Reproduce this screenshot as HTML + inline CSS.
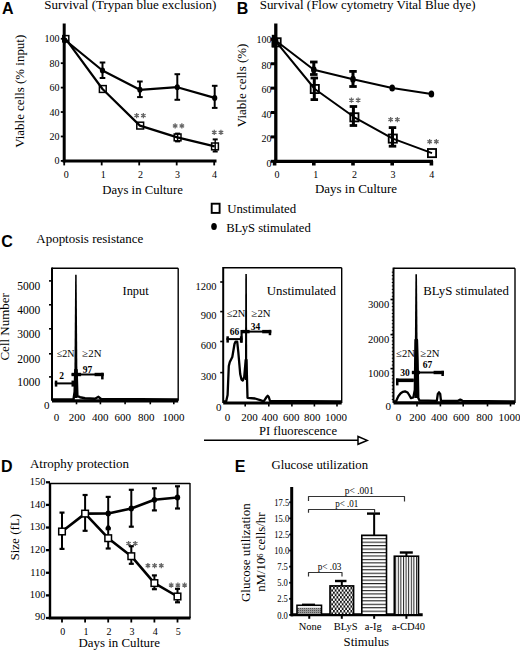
<!DOCTYPE html>
<html><head><meta charset="utf-8"><style>
html,body{margin:0;padding:0;background:#fff;font-family:"Liberation Sans",sans-serif;overflow:hidden;}
svg{display:block;}
</style></head><body>
<svg width="520" height="650" viewBox="0 0 520 650">
<rect width="520" height="650" fill="#fff"/>
<text x="1.90" y="13.50" font-family="Liberation Sans, sans-serif" font-size="16" text-anchor="start" font-weight="bold" fill="#000" >A</text>
<text x="44.30" y="8.80" font-family="Liberation Serif, serif" font-size="13" text-anchor="start" fill="#000" textLength="172" lengthAdjust="spacingAndGlyphs" >Survival (Trypan blue exclusion)</text>
<line x1="64.20" y1="23.50" x2="64.20" y2="162.30" stroke="#000" stroke-width="3" />
<line x1="62.70" y1="160.90" x2="216.50" y2="160.90" stroke="#000" stroke-width="3" />
<line x1="60.80" y1="160.90" x2="64.20" y2="160.90" stroke="#000" stroke-width="1.8" />
<text x="59.60" y="164.40" font-family="Liberation Serif, serif" font-size="10" text-anchor="end" fill="#000" >0</text>
<line x1="60.80" y1="136.47" x2="64.20" y2="136.47" stroke="#000" stroke-width="1.8" />
<text x="59.60" y="139.97" font-family="Liberation Serif, serif" font-size="10" text-anchor="end" fill="#000" >20</text>
<line x1="60.80" y1="112.04" x2="64.20" y2="112.04" stroke="#000" stroke-width="1.8" />
<text x="59.60" y="115.54" font-family="Liberation Serif, serif" font-size="10" text-anchor="end" fill="#000" >40</text>
<line x1="60.80" y1="87.61" x2="64.20" y2="87.61" stroke="#000" stroke-width="1.8" />
<text x="59.60" y="91.11" font-family="Liberation Serif, serif" font-size="10" text-anchor="end" fill="#000" >60</text>
<line x1="60.80" y1="63.18" x2="64.20" y2="63.18" stroke="#000" stroke-width="1.8" />
<text x="59.60" y="66.68" font-family="Liberation Serif, serif" font-size="10" text-anchor="end" fill="#000" >80</text>
<line x1="60.80" y1="38.75" x2="64.20" y2="38.75" stroke="#000" stroke-width="1.8" />
<text x="59.60" y="42.25" font-family="Liberation Serif, serif" font-size="10" text-anchor="end" fill="#000" >100</text>
<line x1="64.20" y1="160.90" x2="64.20" y2="165.40" stroke="#000" stroke-width="1.8" />
<text x="66.20" y="178.00" font-family="Liberation Serif, serif" font-size="10" text-anchor="middle" fill="#000" >0</text>
<line x1="101.70" y1="160.90" x2="101.70" y2="165.40" stroke="#000" stroke-width="1.8" />
<text x="103.30" y="178.00" font-family="Liberation Serif, serif" font-size="10" text-anchor="middle" fill="#000" >1</text>
<line x1="139.20" y1="160.90" x2="139.20" y2="165.40" stroke="#000" stroke-width="1.8" />
<text x="140.40" y="178.00" font-family="Liberation Serif, serif" font-size="10" text-anchor="middle" fill="#000" >2</text>
<line x1="176.70" y1="160.90" x2="176.70" y2="165.40" stroke="#000" stroke-width="1.8" />
<text x="177.50" y="178.00" font-family="Liberation Serif, serif" font-size="10" text-anchor="middle" fill="#000" >3</text>
<line x1="214.20" y1="160.90" x2="214.20" y2="165.40" stroke="#000" stroke-width="1.8" />
<text x="214.60" y="178.00" font-family="Liberation Serif, serif" font-size="10" text-anchor="middle" fill="#000" >4</text>
<text x="102.30" y="193.80" font-family="Liberation Serif, serif" font-size="13" text-anchor="start" fill="#000" textLength="80.5" lengthAdjust="spacingAndGlyphs" >Days in Culture</text>
<text transform="translate(24.20,91.30) rotate(-90)" x="0" y="0" font-family="Liberation Serif, serif" font-size="13" text-anchor="middle" fill="#000" textLength="113" lengthAdjust="spacingAndGlyphs" >Viable cells (% input)</text>
<polyline points="65.10,40.00 102.50,70.50 139.90,89.80 177.30,87.20 214.70,97.90" fill="none" stroke="#000" stroke-width="2.2" stroke-linejoin="round" />
<polyline points="65.50,38.60 102.50,89.00 139.90,125.60 177.30,137.40 214.70,146.40" fill="none" stroke="#000" stroke-width="2.2" stroke-linejoin="round" />
<line x1="102.50" y1="62.50" x2="102.50" y2="78.00" stroke="#000" stroke-width="2.0" />
<line x1="99.70" y1="62.50" x2="105.30" y2="62.50" stroke="#000" stroke-width="2.0" />
<line x1="99.70" y1="78.00" x2="105.30" y2="78.00" stroke="#000" stroke-width="2.0" />
<ellipse cx="102.50" cy="70.50" rx="2.60" ry="3.00" fill="#000"/>
<line x1="139.90" y1="81.50" x2="139.90" y2="97.10" stroke="#000" stroke-width="2.0" />
<line x1="137.10" y1="81.50" x2="142.70" y2="81.50" stroke="#000" stroke-width="2.0" />
<line x1="137.10" y1="97.10" x2="142.70" y2="97.10" stroke="#000" stroke-width="2.0" />
<ellipse cx="139.90" cy="89.80" rx="2.60" ry="3.00" fill="#000"/>
<line x1="177.30" y1="74.20" x2="177.30" y2="99.80" stroke="#000" stroke-width="2.0" />
<line x1="174.50" y1="74.20" x2="180.10" y2="74.20" stroke="#000" stroke-width="2.0" />
<line x1="174.50" y1="99.80" x2="180.10" y2="99.80" stroke="#000" stroke-width="2.0" />
<ellipse cx="177.30" cy="87.20" rx="2.60" ry="3.00" fill="#000"/>
<line x1="214.70" y1="85.80" x2="214.70" y2="107.90" stroke="#000" stroke-width="2.0" />
<line x1="211.90" y1="85.80" x2="217.50" y2="85.80" stroke="#000" stroke-width="2.0" />
<line x1="211.90" y1="107.90" x2="217.50" y2="107.90" stroke="#000" stroke-width="2.0" />
<ellipse cx="214.70" cy="97.90" rx="2.60" ry="3.00" fill="#000"/>
<line x1="177.60" y1="133.60" x2="177.60" y2="141.40" stroke="#000" stroke-width="1.4" />
<line x1="175.10" y1="133.60" x2="180.10" y2="133.60" stroke="#000" stroke-width="2.0" />
<line x1="175.10" y1="141.40" x2="180.10" y2="141.40" stroke="#000" stroke-width="2.0" />
<line x1="215.20" y1="139.40" x2="215.20" y2="151.50" stroke="#000" stroke-width="1.4" />
<line x1="212.70" y1="139.40" x2="217.70" y2="139.40" stroke="#000" stroke-width="2.0" />
<line x1="212.70" y1="151.50" x2="217.70" y2="151.50" stroke="#000" stroke-width="2.0" />
<rect x="62.80" y="35.60" width="6.00" height="6.00" fill="none" stroke="#000" stroke-width="1.5"/>
<rect x="99.40" y="85.60" width="6.80" height="6.80" fill="none" stroke="#000" stroke-width="1.5"/>
<rect x="136.80" y="122.20" width="6.80" height="6.80" fill="none" stroke="#000" stroke-width="1.5"/>
<rect x="174.20" y="134.00" width="6.80" height="6.80" fill="none" stroke="#000" stroke-width="1.5"/>
<rect x="211.60" y="143.00" width="6.80" height="6.80" fill="none" stroke="#000" stroke-width="1.5"/>
<ellipse cx="64.60" cy="40.50" rx="2.60" ry="3.00" fill="#000"/>
<path d="M136.65,118.20L136.65,113.00M134.40,116.90L138.90,114.30M138.90,116.90L134.40,114.30" stroke="#666" stroke-width="1.25" fill="none"/>
<path d="M143.35,118.20L143.35,113.00M141.10,116.90L145.60,114.30M145.60,116.90L141.10,114.30" stroke="#666" stroke-width="1.25" fill="none"/>
<path d="M175.15,128.50L175.15,123.30M172.90,127.20L177.40,124.60M177.40,127.20L172.90,124.60" stroke="#666" stroke-width="1.25" fill="none"/>
<path d="M181.85,128.50L181.85,123.30M179.60,127.20L184.10,124.60M184.10,127.20L179.60,124.60" stroke="#666" stroke-width="1.25" fill="none"/>
<path d="M214.25,135.00L214.25,129.80M212.00,133.70L216.50,131.10M216.50,133.70L212.00,131.10" stroke="#666" stroke-width="1.25" fill="none"/>
<path d="M220.95,135.00L220.95,129.80M218.70,133.70L223.20,131.10M223.20,133.70L218.70,131.10" stroke="#666" stroke-width="1.25" fill="none"/>
<text x="236.70" y="13.80" font-family="Liberation Sans, sans-serif" font-size="16" text-anchor="start" font-weight="bold" fill="#000" >B</text>
<text x="259.70" y="8.80" font-family="Liberation Serif, serif" font-size="13" text-anchor="start" fill="#000" textLength="216" lengthAdjust="spacingAndGlyphs" >Survival (Flow cytometry Vital Blue dye)</text>
<line x1="275.80" y1="23.50" x2="275.80" y2="163.00" stroke="#000" stroke-width="3.3" />
<line x1="274.00" y1="161.30" x2="433.00" y2="161.30" stroke="#000" stroke-width="3.3" />
<line x1="270.80" y1="161.30" x2="275.80" y2="161.30" stroke="#000" stroke-width="3" />
<text x="271.60" y="166.60" font-family="Liberation Serif, serif" font-size="10" text-anchor="end" fill="#000" >0</text>
<line x1="270.80" y1="136.91" x2="275.80" y2="136.91" stroke="#000" stroke-width="3" />
<text x="271.60" y="142.21" font-family="Liberation Serif, serif" font-size="10" text-anchor="end" fill="#000" >20</text>
<line x1="270.80" y1="112.52" x2="275.80" y2="112.52" stroke="#000" stroke-width="3" />
<text x="271.60" y="117.82" font-family="Liberation Serif, serif" font-size="10" text-anchor="end" fill="#000" >40</text>
<line x1="270.80" y1="88.13" x2="275.80" y2="88.13" stroke="#000" stroke-width="3" />
<text x="271.60" y="93.43" font-family="Liberation Serif, serif" font-size="10" text-anchor="end" fill="#000" >60</text>
<line x1="270.80" y1="63.74" x2="275.80" y2="63.74" stroke="#000" stroke-width="3" />
<text x="271.60" y="69.04" font-family="Liberation Serif, serif" font-size="10" text-anchor="end" fill="#000" >80</text>
<line x1="270.80" y1="39.35" x2="275.80" y2="39.35" stroke="#000" stroke-width="3" />
<text x="271.60" y="43.15" font-family="Liberation Serif, serif" font-size="10" text-anchor="end" fill="#000" >100</text>
<rect x="272.80" y="161.00" width="3.60" height="4.50" fill="#000" />
<text x="277.10" y="178.00" font-family="Liberation Serif, serif" font-size="10" text-anchor="middle" fill="#000" >0</text>
<rect x="312.00" y="161.00" width="3.60" height="4.50" fill="#000" />
<text x="315.75" y="178.00" font-family="Liberation Serif, serif" font-size="10" text-anchor="middle" fill="#000" >1</text>
<rect x="351.20" y="161.00" width="3.60" height="4.50" fill="#000" />
<text x="354.40" y="178.00" font-family="Liberation Serif, serif" font-size="10" text-anchor="middle" fill="#000" >2</text>
<rect x="390.40" y="161.00" width="3.60" height="4.50" fill="#000" />
<text x="393.05" y="178.00" font-family="Liberation Serif, serif" font-size="10" text-anchor="middle" fill="#000" >3</text>
<rect x="429.60" y="161.00" width="3.60" height="4.50" fill="#000" />
<text x="431.70" y="178.00" font-family="Liberation Serif, serif" font-size="10" text-anchor="middle" fill="#000" >4</text>
<text x="315.00" y="193.20" font-family="Liberation Serif, serif" font-size="13" text-anchor="start" fill="#000" textLength="82" lengthAdjust="spacingAndGlyphs" >Days in Culture</text>
<text transform="translate(246.00,85.40) rotate(-90)" x="0" y="0" font-family="Liberation Serif, serif" font-size="13.2" text-anchor="middle" fill="#000" textLength="83.6" lengthAdjust="spacingAndGlyphs" >Viable cells (%)</text>
<polyline points="275.60,40.50 313.80,69.80 353.00,79.20 392.20,88.10 431.40,94.10" fill="none" stroke="#000" stroke-width="2.0" stroke-linejoin="round" />
<polyline points="276.60,42.30 314.80,89.00 354.40,117.30 392.80,138.60 432.00,153.10" fill="none" stroke="#000" stroke-width="2.0" stroke-linejoin="round" />
<line x1="313.80" y1="62.00" x2="313.80" y2="74.50" stroke="#000" stroke-width="3.0" />
<line x1="310.05" y1="62.00" x2="317.55" y2="62.00" stroke="#000" stroke-width="2.8" />
<line x1="310.05" y1="74.50" x2="317.55" y2="74.50" stroke="#000" stroke-width="2.8" />
<line x1="353.00" y1="71.40" x2="353.00" y2="86.50" stroke="#000" stroke-width="3.0" />
<line x1="349.25" y1="71.40" x2="356.75" y2="71.40" stroke="#000" stroke-width="2.8" />
<line x1="349.25" y1="86.50" x2="356.75" y2="86.50" stroke="#000" stroke-width="2.8" />
<line x1="314.30" y1="78.00" x2="314.30" y2="99.60" stroke="#000" stroke-width="3.0" />
<line x1="310.55" y1="78.00" x2="318.05" y2="78.00" stroke="#000" stroke-width="2.8" />
<line x1="310.55" y1="99.60" x2="318.05" y2="99.60" stroke="#000" stroke-width="2.8" />
<line x1="353.40" y1="106.50" x2="353.40" y2="125.50" stroke="#000" stroke-width="3.0" />
<line x1="349.65" y1="106.50" x2="357.15" y2="106.50" stroke="#000" stroke-width="2.8" />
<line x1="349.65" y1="125.50" x2="357.15" y2="125.50" stroke="#000" stroke-width="2.8" />
<line x1="392.50" y1="127.60" x2="392.50" y2="146.20" stroke="#000" stroke-width="3.0" />
<line x1="388.75" y1="127.60" x2="396.25" y2="127.60" stroke="#000" stroke-width="2.8" />
<line x1="388.75" y1="146.20" x2="396.25" y2="146.20" stroke="#000" stroke-width="2.8" />
<ellipse cx="275.60" cy="40.50" rx="2.80" ry="3.50" fill="#000"/>
<ellipse cx="313.80" cy="69.80" rx="2.80" ry="3.50" fill="#000"/>
<ellipse cx="353.00" cy="79.20" rx="2.80" ry="3.50" fill="#000"/>
<ellipse cx="392.20" cy="88.10" rx="2.80" ry="3.50" fill="#000"/>
<ellipse cx="431.40" cy="94.10" rx="2.80" ry="3.50" fill="#000"/>
<rect x="272.50" y="38.20" width="8.20" height="8.20" fill="none" stroke="#000" stroke-width="1.8"/>
<rect x="310.70" y="84.90" width="8.20" height="8.20" fill="none" stroke="#000" stroke-width="1.8"/>
<rect x="350.30" y="113.20" width="8.20" height="8.20" fill="none" stroke="#000" stroke-width="1.8"/>
<rect x="388.70" y="134.50" width="8.20" height="8.20" fill="none" stroke="#000" stroke-width="1.8"/>
<rect x="427.90" y="149.00" width="8.20" height="8.20" fill="none" stroke="#000" stroke-width="1.8"/>
<rect x="271.80" y="34.80" width="3.50" height="12.70" fill="#000" />
<path d="M351.45,102.80L351.45,97.60M349.20,101.50L353.70,98.90M353.70,101.50L349.20,98.90" stroke="#666" stroke-width="1.25" fill="none"/>
<path d="M358.15,102.80L358.15,97.60M355.90,101.50L360.40,98.90M360.40,101.50L355.90,98.90" stroke="#666" stroke-width="1.25" fill="none"/>
<path d="M390.65,122.20L390.65,117.00M388.40,120.90L392.90,118.30M392.90,120.90L388.40,118.30" stroke="#666" stroke-width="1.25" fill="none"/>
<path d="M397.35,122.20L397.35,117.00M395.10,120.90L399.60,118.30M399.60,120.90L395.10,118.30" stroke="#666" stroke-width="1.25" fill="none"/>
<path d="M429.65,144.30L429.65,139.10M427.40,143.00L431.90,140.40M431.90,143.00L427.40,140.40" stroke="#666" stroke-width="1.25" fill="none"/>
<path d="M436.35,144.30L436.35,139.10M434.10,143.00L438.60,140.40M438.60,143.00L434.10,140.40" stroke="#666" stroke-width="1.25" fill="none"/>
<rect x="211.7" y="203.7" width="7.9" height="9.2" fill="#fff" stroke="#000" stroke-width="1.9"/>
<text x="227.20" y="213.20" font-family="Liberation Serif, serif" font-size="13" text-anchor="start" fill="#000" textLength="69" lengthAdjust="spacingAndGlyphs" >Unstimulated</text>
<ellipse cx="214.00" cy="226.50" rx="2.80" ry="3.60" fill="#000"/>
<text x="226.20" y="231.80" font-family="Liberation Serif, serif" font-size="13" text-anchor="start" fill="#000" textLength="84.6" lengthAdjust="spacingAndGlyphs" >BLyS stimulated</text>
<text x="1.30" y="247.30" font-family="Liberation Sans, sans-serif" font-size="16" text-anchor="start" font-weight="bold" fill="#000" >C</text>
<text x="36.30" y="243.10" font-family="Liberation Serif, serif" font-size="13" text-anchor="start" fill="#000" textLength="107" lengthAdjust="spacingAndGlyphs" >Apoptosis resistance</text>
<text transform="translate(8.80,326.80) rotate(-90)" x="0" y="0" font-family="Liberation Serif, serif" font-size="13" text-anchor="middle" fill="#000" textLength="67.5" lengthAdjust="spacingAndGlyphs" >Cell Number</text>
<line x1="204.00" y1="440.20" x2="358.00" y2="440.20" stroke="#000" stroke-width="1.6" />
<polygon points="358,436.5 358,444.3 367.2,440.4" fill="#fff" stroke="#000" stroke-width="1.5"/>
<text x="259.00" y="435.00" font-family="Liberation Serif, serif" font-size="13" text-anchor="start" fill="#000" textLength="78" lengthAdjust="spacingAndGlyphs" >PI fluorescence</text>
<line x1="52.00" y1="268.20" x2="178.20" y2="268.20" stroke="#000" stroke-width="1.5" />
<line x1="178.20" y1="268.20" x2="178.20" y2="400.80" stroke="#000" stroke-width="1.4" />
<line x1="52.00" y1="267.50" x2="52.00" y2="400.80" stroke="#000" stroke-width="2" />
<line x1="52.00" y1="400.80" x2="178.20" y2="400.80" stroke="#000" stroke-width="3.2" />
<line x1="49.00" y1="280.90" x2="52.00" y2="280.90" stroke="#000" stroke-width="1.6" />
<line x1="49.00" y1="304.80" x2="52.00" y2="304.80" stroke="#000" stroke-width="1.6" />
<line x1="49.00" y1="328.80" x2="52.00" y2="328.80" stroke="#000" stroke-width="1.6" />
<line x1="49.00" y1="353.80" x2="52.00" y2="353.80" stroke="#000" stroke-width="1.6" />
<line x1="49.00" y1="376.90" x2="52.00" y2="376.90" stroke="#000" stroke-width="1.6" />
<text x="40.20" y="289.60" font-family="Liberation Serif, serif" font-size="11.5" text-anchor="end" fill="#000" >5000</text>
<text x="40.20" y="313.50" font-family="Liberation Serif, serif" font-size="11.5" text-anchor="end" fill="#000" >4000</text>
<text x="40.20" y="337.50" font-family="Liberation Serif, serif" font-size="11.5" text-anchor="end" fill="#000" >3000</text>
<text x="40.20" y="362.50" font-family="Liberation Serif, serif" font-size="11.5" text-anchor="end" fill="#000" >2000</text>
<text x="40.20" y="385.60" font-family="Liberation Serif, serif" font-size="11.5" text-anchor="end" fill="#000" >1000</text>
<line x1="76.50" y1="400.80" x2="76.50" y2="404.30" stroke="#000" stroke-width="1.6" />
<line x1="100.40" y1="400.80" x2="100.40" y2="404.30" stroke="#000" stroke-width="1.6" />
<line x1="125.10" y1="400.80" x2="125.10" y2="404.30" stroke="#000" stroke-width="1.6" />
<line x1="150.30" y1="400.80" x2="150.30" y2="404.30" stroke="#000" stroke-width="1.6" />
<line x1="173.80" y1="400.80" x2="173.80" y2="404.30" stroke="#000" stroke-width="1.6" />
<text x="56.50" y="421.30" font-family="Liberation Serif, serif" font-size="11" text-anchor="middle" fill="#000" >0</text>
<text x="76.90" y="421.30" font-family="Liberation Serif, serif" font-size="11" text-anchor="middle" fill="#000" >200</text>
<text x="100.20" y="421.30" font-family="Liberation Serif, serif" font-size="11" text-anchor="middle" fill="#000" >400</text>
<text x="122.70" y="421.30" font-family="Liberation Serif, serif" font-size="11" text-anchor="middle" fill="#000" >600</text>
<text x="146.20" y="421.30" font-family="Liberation Serif, serif" font-size="11" text-anchor="middle" fill="#000" >800</text>
<text x="173.50" y="421.30" font-family="Liberation Serif, serif" font-size="11" text-anchor="middle" fill="#000" >1000</text>
<text x="122.50" y="294.80" font-family="Liberation Serif, serif" font-size="13" text-anchor="start" fill="#000" textLength="26.2" lengthAdjust="spacingAndGlyphs" >Input</text>
<text x="49.60" y="409.00" font-family="Liberation Serif, serif" font-size="11" text-anchor="end" fill="#000" >0</text>
<polygon points="75.15,274.80 76.65,274.80 77.60,398.00 74.20,398.00" fill="#000"/>
<polyline points="52.00,399.50 73.50,399.50 74.60,392.00 75.30,370.00 76.60,370.00 77.40,396.00 80.00,397.20 85.00,398.20 95.00,398.80 98.50,396.80 101.00,399.00 178.00,399.50" fill="none" stroke="#000" stroke-width="2.4" stroke-linejoin="round" />
<line x1="54.80" y1="383.40" x2="74.00" y2="383.40" stroke="#000" stroke-width="2" />
<rect x="54.80" y="380.60" width="2.50" height="6.00" fill="#000" />
<rect x="71.50" y="380.60" width="2.50" height="6.00" fill="#000" />
<line x1="71.60" y1="374.50" x2="103.60" y2="374.50" stroke="#000" stroke-width="2" />
<rect x="71.60" y="372.80" width="9.50" height="3.40" fill="#000" />
<rect x="94.60" y="372.80" width="9.00" height="3.40" fill="#000" />
<rect x="101.10" y="372.80" width="2.50" height="6.60" fill="#000" />
<text x="61.70" y="378.50" font-family="Liberation Serif, serif" font-size="9.5" text-anchor="middle" font-weight="bold" fill="#000" >2</text>
<text x="87.50" y="372.90" font-family="Liberation Serif, serif" font-size="9.5" text-anchor="middle" font-weight="bold" fill="#000" >97</text>
<text x="56.90" y="356.90" font-family="Liberation Serif, serif" font-size="10.5" text-anchor="start" fill="#000" textLength="17.7" lengthAdjust="spacingAndGlyphs" >≤2N</text>
<text x="82.30" y="356.90" font-family="Liberation Serif, serif" font-size="10.5" text-anchor="start" fill="#000" textLength="19.2" lengthAdjust="spacingAndGlyphs" >≥2N</text>
<polygon points="245.30,274.00 246.90,274.00 247.30,380.00 244.90,380.00" fill="#000"/>
<line x1="223.20" y1="267.70" x2="341.70" y2="267.70" stroke="#000" stroke-width="1.5" />
<line x1="341.70" y1="267.70" x2="341.70" y2="403.00" stroke="#000" stroke-width="1.4" />
<line x1="223.20" y1="267.00" x2="223.20" y2="403.00" stroke="#000" stroke-width="2" />
<line x1="223.20" y1="403.00" x2="341.70" y2="403.00" stroke="#000" stroke-width="3.2" />
<line x1="220.20" y1="282.00" x2="223.20" y2="282.00" stroke="#000" stroke-width="1.6" />
<line x1="220.20" y1="311.60" x2="223.20" y2="311.60" stroke="#000" stroke-width="1.6" />
<line x1="220.20" y1="341.50" x2="223.20" y2="341.50" stroke="#000" stroke-width="1.6" />
<line x1="220.20" y1="372.60" x2="223.20" y2="372.60" stroke="#000" stroke-width="1.6" />
<text x="216.40" y="289.70" font-family="Liberation Serif, serif" font-size="10.5" text-anchor="end" fill="#000" >1200</text>
<text x="216.40" y="319.30" font-family="Liberation Serif, serif" font-size="10.5" text-anchor="end" fill="#000" >900</text>
<text x="216.40" y="349.20" font-family="Liberation Serif, serif" font-size="10.5" text-anchor="end" fill="#000" >600</text>
<text x="216.40" y="380.30" font-family="Liberation Serif, serif" font-size="10.5" text-anchor="end" fill="#000" >300</text>
<line x1="245.20" y1="403.00" x2="245.20" y2="406.50" stroke="#000" stroke-width="1.6" />
<line x1="268.80" y1="403.00" x2="268.80" y2="406.50" stroke="#000" stroke-width="1.6" />
<line x1="291.90" y1="403.00" x2="291.90" y2="406.50" stroke="#000" stroke-width="1.6" />
<line x1="314.40" y1="403.00" x2="314.40" y2="406.50" stroke="#000" stroke-width="1.6" />
<line x1="337.00" y1="403.00" x2="337.00" y2="406.50" stroke="#000" stroke-width="1.6" />
<text x="227.50" y="421.30" font-family="Liberation Serif, serif" font-size="11" text-anchor="middle" fill="#000" >0</text>
<text x="249.40" y="421.30" font-family="Liberation Serif, serif" font-size="11" text-anchor="middle" fill="#000" >200</text>
<text x="269.80" y="421.30" font-family="Liberation Serif, serif" font-size="11" text-anchor="middle" fill="#000" >400</text>
<text x="291.20" y="421.30" font-family="Liberation Serif, serif" font-size="11" text-anchor="middle" fill="#000" >600</text>
<text x="312.20" y="421.30" font-family="Liberation Serif, serif" font-size="11" text-anchor="middle" fill="#000" >800</text>
<text x="336.00" y="421.30" font-family="Liberation Serif, serif" font-size="11" text-anchor="middle" fill="#000" >1000</text>
<text x="266.70" y="294.80" font-family="Liberation Serif, serif" font-size="13" text-anchor="start" fill="#000" textLength="69.3" lengthAdjust="spacingAndGlyphs" >Unstimulated</text>
<text x="221.50" y="410.50" font-family="Liberation Serif, serif" font-size="11" text-anchor="end" fill="#000" >0</text>
<polyline points="223.20,401.50 226.20,401.30 227.60,395.00 228.80,366.00 229.80,362.00 232.30,357.00 234.50,344.00 235.50,341.60 237.20,341.60 238.30,352.00 240.20,374.00 241.50,379.50 242.80,380.60 244.20,377.00 245.70,360.00 246.50,360.00 247.50,397.80 255.00,398.50 260.20,400.20 263.70,401.30 266.60,397.00 267.70,395.80 268.80,397.00 270.00,401.00 341.70,401.50" fill="none" stroke="#000" stroke-width="2.3" stroke-linejoin="round" />
<line x1="226.40" y1="339.10" x2="242.40" y2="339.10" stroke="#000" stroke-width="2" />
<rect x="226.40" y="336.30" width="2.50" height="6.30" fill="#000" />
<rect x="239.90" y="336.30" width="2.50" height="6.30" fill="#000" />
<line x1="241.60" y1="330.00" x2="241.60" y2="342.70" stroke="#000" stroke-width="2.2" />
<line x1="241.60" y1="331.60" x2="271.20" y2="331.60" stroke="#000" stroke-width="2" />
<rect x="241.60" y="329.90" width="8.00" height="3.40" fill="#000" />
<rect x="262.20" y="329.90" width="9.00" height="3.40" fill="#000" />
<rect x="268.70" y="329.90" width="2.50" height="5.30" fill="#000" />
<text x="234.40" y="334.80" font-family="Liberation Serif, serif" font-size="9.5" text-anchor="middle" font-weight="bold" fill="#000" >66</text>
<text x="255.60" y="330.40" font-family="Liberation Serif, serif" font-size="9.5" text-anchor="middle" font-weight="bold" fill="#000" >34</text>
<text x="226.90" y="317.20" font-family="Liberation Serif, serif" font-size="10.5" text-anchor="start" fill="#000" textLength="18.5" lengthAdjust="spacingAndGlyphs" >≤2N</text>
<text x="251.50" y="317.20" font-family="Liberation Serif, serif" font-size="10.5" text-anchor="start" fill="#000" textLength="19.2" lengthAdjust="spacingAndGlyphs" >≥2N</text>
<line x1="393.50" y1="268.30" x2="515.00" y2="268.30" stroke="#000" stroke-width="1.5" />
<line x1="515.00" y1="268.30" x2="515.00" y2="402.90" stroke="#000" stroke-width="1.4" />
<line x1="393.50" y1="267.60" x2="393.50" y2="402.90" stroke="#000" stroke-width="2" />
<line x1="393.50" y1="402.90" x2="515.00" y2="402.90" stroke="#000" stroke-width="3.2" />
<line x1="390.50" y1="299.50" x2="393.50" y2="299.50" stroke="#000" stroke-width="1.6" />
<line x1="390.50" y1="334.60" x2="393.50" y2="334.60" stroke="#000" stroke-width="1.6" />
<line x1="390.50" y1="368.60" x2="393.50" y2="368.60" stroke="#000" stroke-width="1.6" />
<text x="389.20" y="307.70" font-family="Liberation Serif, serif" font-size="10.6" text-anchor="end" fill="#000" >3000</text>
<text x="389.20" y="342.80" font-family="Liberation Serif, serif" font-size="10.6" text-anchor="end" fill="#000" >2000</text>
<text x="389.20" y="376.80" font-family="Liberation Serif, serif" font-size="10.6" text-anchor="end" fill="#000" >1000</text>
<line x1="417.00" y1="402.90" x2="417.00" y2="406.40" stroke="#000" stroke-width="1.6" />
<line x1="440.40" y1="402.90" x2="440.40" y2="406.40" stroke="#000" stroke-width="1.6" />
<line x1="463.20" y1="402.90" x2="463.20" y2="406.40" stroke="#000" stroke-width="1.6" />
<line x1="487.50" y1="402.90" x2="487.50" y2="406.40" stroke="#000" stroke-width="1.6" />
<line x1="510.50" y1="402.90" x2="510.50" y2="406.40" stroke="#000" stroke-width="1.6" />
<text x="398.40" y="421.30" font-family="Liberation Serif, serif" font-size="11" text-anchor="middle" fill="#000" >0</text>
<text x="417.60" y="421.30" font-family="Liberation Serif, serif" font-size="11" text-anchor="middle" fill="#000" >200</text>
<text x="439.20" y="421.30" font-family="Liberation Serif, serif" font-size="11" text-anchor="middle" fill="#000" >400</text>
<text x="461.20" y="421.30" font-family="Liberation Serif, serif" font-size="11" text-anchor="middle" fill="#000" >600</text>
<text x="484.50" y="421.30" font-family="Liberation Serif, serif" font-size="11" text-anchor="middle" fill="#000" >800</text>
<text x="509.60" y="421.30" font-family="Liberation Serif, serif" font-size="11" text-anchor="middle" fill="#000" >1000</text>
<text x="423.20" y="294.80" font-family="Liberation Serif, serif" font-size="13" text-anchor="start" fill="#000" textLength="85.7" lengthAdjust="spacingAndGlyphs" >BLyS stimulated</text>
<text x="391.00" y="410.40" font-family="Liberation Serif, serif" font-size="11" text-anchor="end" fill="#000" >0</text>
<polygon points="415.40,274.20 417.00,274.20 418.00,398.00 414.40,398.00" fill="#000"/>
<line x1="391.80" y1="399.46" x2="393.50" y2="399.46" stroke="#000" stroke-width="1.0" />
<line x1="391.80" y1="396.02" x2="393.50" y2="396.02" stroke="#000" stroke-width="1.0" />
<line x1="391.80" y1="392.58" x2="393.50" y2="392.58" stroke="#000" stroke-width="1.0" />
<line x1="391.80" y1="389.14" x2="393.50" y2="389.14" stroke="#000" stroke-width="1.0" />
<line x1="391.80" y1="385.70" x2="393.50" y2="385.70" stroke="#000" stroke-width="1.0" />
<line x1="391.80" y1="382.26" x2="393.50" y2="382.26" stroke="#000" stroke-width="1.0" />
<line x1="391.80" y1="378.82" x2="393.50" y2="378.82" stroke="#000" stroke-width="1.0" />
<line x1="391.80" y1="375.38" x2="393.50" y2="375.38" stroke="#000" stroke-width="1.0" />
<line x1="391.80" y1="371.94" x2="393.50" y2="371.94" stroke="#000" stroke-width="1.0" />
<line x1="391.80" y1="368.50" x2="393.50" y2="368.50" stroke="#000" stroke-width="1.0" />
<line x1="391.80" y1="365.06" x2="393.50" y2="365.06" stroke="#000" stroke-width="1.0" />
<line x1="391.80" y1="361.62" x2="393.50" y2="361.62" stroke="#000" stroke-width="1.0" />
<line x1="391.80" y1="358.18" x2="393.50" y2="358.18" stroke="#000" stroke-width="1.0" />
<line x1="391.80" y1="354.74" x2="393.50" y2="354.74" stroke="#000" stroke-width="1.0" />
<line x1="391.80" y1="351.30" x2="393.50" y2="351.30" stroke="#000" stroke-width="1.0" />
<line x1="391.80" y1="347.86" x2="393.50" y2="347.86" stroke="#000" stroke-width="1.0" />
<line x1="391.80" y1="344.42" x2="393.50" y2="344.42" stroke="#000" stroke-width="1.0" />
<line x1="391.80" y1="340.98" x2="393.50" y2="340.98" stroke="#000" stroke-width="1.0" />
<line x1="391.80" y1="337.54" x2="393.50" y2="337.54" stroke="#000" stroke-width="1.0" />
<line x1="391.80" y1="334.10" x2="393.50" y2="334.10" stroke="#000" stroke-width="1.0" />
<line x1="391.80" y1="330.66" x2="393.50" y2="330.66" stroke="#000" stroke-width="1.0" />
<line x1="391.80" y1="327.22" x2="393.50" y2="327.22" stroke="#000" stroke-width="1.0" />
<line x1="391.80" y1="323.78" x2="393.50" y2="323.78" stroke="#000" stroke-width="1.0" />
<line x1="391.80" y1="320.34" x2="393.50" y2="320.34" stroke="#000" stroke-width="1.0" />
<line x1="391.80" y1="316.90" x2="393.50" y2="316.90" stroke="#000" stroke-width="1.0" />
<line x1="391.80" y1="313.46" x2="393.50" y2="313.46" stroke="#000" stroke-width="1.0" />
<line x1="391.80" y1="310.02" x2="393.50" y2="310.02" stroke="#000" stroke-width="1.0" />
<line x1="391.80" y1="306.58" x2="393.50" y2="306.58" stroke="#000" stroke-width="1.0" />
<line x1="391.80" y1="303.14" x2="393.50" y2="303.14" stroke="#000" stroke-width="1.0" />
<line x1="391.80" y1="299.70" x2="393.50" y2="299.70" stroke="#000" stroke-width="1.0" />
<line x1="391.80" y1="296.26" x2="393.50" y2="296.26" stroke="#000" stroke-width="1.0" />
<line x1="391.80" y1="292.82" x2="393.50" y2="292.82" stroke="#000" stroke-width="1.0" />
<line x1="391.80" y1="289.38" x2="393.50" y2="289.38" stroke="#000" stroke-width="1.0" />
<line x1="391.80" y1="285.94" x2="393.50" y2="285.94" stroke="#000" stroke-width="1.0" />
<line x1="391.80" y1="282.50" x2="393.50" y2="282.50" stroke="#000" stroke-width="1.0" />
<line x1="391.80" y1="279.06" x2="393.50" y2="279.06" stroke="#000" stroke-width="1.0" />
<line x1="391.80" y1="275.62" x2="393.50" y2="275.62" stroke="#000" stroke-width="1.0" />
<line x1="391.80" y1="272.18" x2="393.50" y2="272.18" stroke="#000" stroke-width="1.0" />
<polyline points="393.50,401.50 396.00,401.50 397.50,398.00 398.50,396.00 400.70,393.20 403.00,391.80 405.00,391.40 407.60,392.50 409.50,395.50 411.00,398.20 413.30,397.50 414.80,390.00 415.50,340.00 417.00,340.00 417.60,360.00 418.30,398.00 419.50,400.50 436.80,400.80 437.80,394.00 439.00,392.30 440.20,394.00 441.00,400.80 458.00,400.80 460.30,399.60 462.50,400.80 515.00,401.50" fill="none" stroke="#000" stroke-width="2.3" stroke-linejoin="round" />
<line x1="396.00" y1="380.30" x2="413.70" y2="380.30" stroke="#000" stroke-width="2" />
<rect x="396.00" y="378.50" width="17.70" height="3.60" fill="#000" />
<rect x="396.00" y="378.50" width="2.50" height="6.90" fill="#000" />
<line x1="411.90" y1="372.50" x2="443.90" y2="372.50" stroke="#000" stroke-width="2" />
<rect x="411.90" y="370.80" width="8.00" height="3.40" fill="#000" />
<rect x="433.60" y="370.80" width="10.30" height="3.40" fill="#000" />
<rect x="441.40" y="370.80" width="2.50" height="5.20" fill="#000" />
<text x="405.00" y="376.40" font-family="Liberation Serif, serif" font-size="9.5" text-anchor="middle" font-weight="bold" fill="#000" >30</text>
<text x="427.50" y="368.40" font-family="Liberation Serif, serif" font-size="9.5" text-anchor="middle" font-weight="bold" fill="#000" >67</text>
<text x="396.30" y="356.80" font-family="Liberation Serif, serif" font-size="10.5" text-anchor="start" fill="#000" textLength="18.7" lengthAdjust="spacingAndGlyphs" >≤2N</text>
<text x="420.60" y="356.80" font-family="Liberation Serif, serif" font-size="10.5" text-anchor="start" fill="#000" textLength="19" lengthAdjust="spacingAndGlyphs" >≥2N</text>
<text x="0.90" y="471.50" font-family="Liberation Sans, sans-serif" font-size="16" text-anchor="start" font-weight="bold" fill="#000" >D</text>
<text x="30.00" y="468.20" font-family="Liberation Serif, serif" font-size="13" text-anchor="start" fill="#000" textLength="99" lengthAdjust="spacingAndGlyphs" >Atrophy protection</text>
<line x1="50.00" y1="483.00" x2="50.00" y2="619.00" stroke="#000" stroke-width="2.4" />
<line x1="49.00" y1="483.50" x2="190.00" y2="483.50" stroke="#000" stroke-width="1.3" />
<line x1="190.00" y1="483.00" x2="190.00" y2="618.00" stroke="#000" stroke-width="1.4" />
<line x1="48.80" y1="618.00" x2="190.50" y2="618.00" stroke="#000" stroke-width="3" />
<line x1="46.00" y1="618.00" x2="50.00" y2="618.00" stroke="#000" stroke-width="2.3" />
<text x="45.40" y="620.20" font-family="Liberation Serif, serif" font-size="10.4" text-anchor="end" fill="#000" >90</text>
<line x1="46.00" y1="595.38" x2="50.00" y2="595.38" stroke="#000" stroke-width="2.3" />
<text x="45.40" y="598.18" font-family="Liberation Serif, serif" font-size="10.4" text-anchor="end" fill="#000" >100</text>
<line x1="46.00" y1="572.76" x2="50.00" y2="572.76" stroke="#000" stroke-width="2.3" />
<text x="45.40" y="575.56" font-family="Liberation Serif, serif" font-size="10.4" text-anchor="end" fill="#000" >110</text>
<line x1="46.00" y1="550.14" x2="50.00" y2="550.14" stroke="#000" stroke-width="2.3" />
<text x="45.40" y="552.94" font-family="Liberation Serif, serif" font-size="10.4" text-anchor="end" fill="#000" >120</text>
<line x1="46.00" y1="527.52" x2="50.00" y2="527.52" stroke="#000" stroke-width="2.3" />
<text x="45.40" y="530.32" font-family="Liberation Serif, serif" font-size="10.4" text-anchor="end" fill="#000" >130</text>
<line x1="46.00" y1="504.90" x2="50.00" y2="504.90" stroke="#000" stroke-width="2.3" />
<text x="45.40" y="507.70" font-family="Liberation Serif, serif" font-size="10.4" text-anchor="end" fill="#000" >140</text>
<line x1="46.00" y1="482.28" x2="50.00" y2="482.28" stroke="#000" stroke-width="2.3" />
<text x="45.40" y="485.08" font-family="Liberation Serif, serif" font-size="10.4" text-anchor="end" fill="#000" >150</text>
<line x1="62.00" y1="618.00" x2="62.00" y2="622.50" stroke="#000" stroke-width="1.8" />
<text x="62.80" y="635.00" font-family="Liberation Serif, serif" font-size="10" text-anchor="middle" fill="#000" >0</text>
<line x1="85.10" y1="618.00" x2="85.10" y2="622.50" stroke="#000" stroke-width="1.8" />
<text x="85.90" y="635.00" font-family="Liberation Serif, serif" font-size="10" text-anchor="middle" fill="#000" >1</text>
<line x1="108.20" y1="618.00" x2="108.20" y2="622.50" stroke="#000" stroke-width="1.8" />
<text x="109.00" y="635.00" font-family="Liberation Serif, serif" font-size="10" text-anchor="middle" fill="#000" >2</text>
<line x1="131.30" y1="618.00" x2="131.30" y2="622.50" stroke="#000" stroke-width="1.8" />
<text x="132.10" y="635.00" font-family="Liberation Serif, serif" font-size="10" text-anchor="middle" fill="#000" >3</text>
<line x1="154.40" y1="618.00" x2="154.40" y2="622.50" stroke="#000" stroke-width="1.8" />
<text x="155.20" y="635.00" font-family="Liberation Serif, serif" font-size="10" text-anchor="middle" fill="#000" >4</text>
<line x1="177.50" y1="618.00" x2="177.50" y2="622.50" stroke="#000" stroke-width="1.8" />
<text x="178.30" y="635.00" font-family="Liberation Serif, serif" font-size="10" text-anchor="middle" fill="#000" >5</text>
<text x="78.50" y="647.00" font-family="Liberation Serif, serif" font-size="13" text-anchor="start" fill="#000" textLength="81.5" lengthAdjust="spacingAndGlyphs" >Days in Culture</text>
<text transform="translate(19.30,537.20) rotate(-90)" x="0" y="0" font-family="Liberation Serif, serif" font-size="13" text-anchor="middle" fill="#000" textLength="46.7" lengthAdjust="spacingAndGlyphs" >Size (fL)</text>
<line x1="62.00" y1="512.60" x2="62.00" y2="548.90" stroke="#000" stroke-width="2.0" />
<line x1="59.50" y1="512.60" x2="64.50" y2="512.60" stroke="#000" stroke-width="2.2" />
<line x1="59.50" y1="548.90" x2="64.50" y2="548.90" stroke="#000" stroke-width="2.2" />
<line x1="85.10" y1="495.00" x2="85.10" y2="530.80" stroke="#000" stroke-width="2.0" />
<line x1="82.60" y1="495.00" x2="87.60" y2="495.00" stroke="#000" stroke-width="2.2" />
<line x1="82.60" y1="530.80" x2="87.60" y2="530.80" stroke="#000" stroke-width="2.2" />
<line x1="108.20" y1="496.90" x2="108.20" y2="529.20" stroke="#000" stroke-width="2.0" />
<line x1="105.70" y1="496.90" x2="110.70" y2="496.90" stroke="#000" stroke-width="2.2" />
<line x1="105.70" y1="529.20" x2="110.70" y2="529.20" stroke="#000" stroke-width="2.2" />
<line x1="131.30" y1="489.80" x2="131.30" y2="526.70" stroke="#000" stroke-width="2.0" />
<line x1="128.80" y1="489.80" x2="133.80" y2="489.80" stroke="#000" stroke-width="2.2" />
<line x1="128.80" y1="526.70" x2="133.80" y2="526.70" stroke="#000" stroke-width="2.2" />
<line x1="154.40" y1="488.30" x2="154.40" y2="510.40" stroke="#000" stroke-width="2.0" />
<line x1="151.90" y1="488.30" x2="156.90" y2="488.30" stroke="#000" stroke-width="2.2" />
<line x1="151.90" y1="510.40" x2="156.90" y2="510.40" stroke="#000" stroke-width="2.2" />
<line x1="177.50" y1="486.30" x2="177.50" y2="508.50" stroke="#000" stroke-width="2.0" />
<line x1="175.00" y1="486.30" x2="180.00" y2="486.30" stroke="#000" stroke-width="2.2" />
<line x1="175.00" y1="508.50" x2="180.00" y2="508.50" stroke="#000" stroke-width="2.2" />
<line x1="108.20" y1="528.00" x2="108.20" y2="548.50" stroke="#000" stroke-width="2.0" />
<line x1="105.70" y1="528.00" x2="110.70" y2="528.00" stroke="#000" stroke-width="2.2" />
<line x1="105.70" y1="548.50" x2="110.70" y2="548.50" stroke="#000" stroke-width="2.2" />
<line x1="131.30" y1="546.20" x2="131.30" y2="563.80" stroke="#000" stroke-width="2.0" />
<line x1="128.80" y1="546.20" x2="133.80" y2="546.20" stroke="#000" stroke-width="2.2" />
<line x1="128.80" y1="563.80" x2="133.80" y2="563.80" stroke="#000" stroke-width="2.2" />
<line x1="154.40" y1="575.40" x2="154.40" y2="589.20" stroke="#000" stroke-width="2.0" />
<line x1="151.90" y1="575.40" x2="156.90" y2="575.40" stroke="#000" stroke-width="2.2" />
<line x1="151.90" y1="589.20" x2="156.90" y2="589.20" stroke="#000" stroke-width="2.2" />
<line x1="177.50" y1="588.80" x2="177.50" y2="602.30" stroke="#000" stroke-width="2.0" />
<line x1="175.00" y1="588.80" x2="180.00" y2="588.80" stroke="#000" stroke-width="2.2" />
<line x1="175.00" y1="602.30" x2="180.00" y2="602.30" stroke="#000" stroke-width="2.2" />
<polyline points="85.10,513.60 108.20,513.50 131.30,508.50 154.40,499.80 177.50,497.50" fill="none" stroke="#000" stroke-width="2.6" stroke-linejoin="round" />
<polyline points="62.00,531.50 85.10,513.60 108.20,538.20 131.30,556.20 154.40,583.10 177.50,596.50" fill="none" stroke="#000" stroke-width="2.6" stroke-linejoin="round" />
<ellipse cx="85.10" cy="513.60" rx="2.70" ry="2.90" fill="#000"/>
<ellipse cx="108.20" cy="513.50" rx="2.70" ry="2.90" fill="#000"/>
<ellipse cx="131.30" cy="508.50" rx="2.70" ry="2.90" fill="#000"/>
<ellipse cx="154.40" cy="499.80" rx="2.70" ry="2.90" fill="#000"/>
<ellipse cx="177.50" cy="497.50" rx="2.70" ry="2.90" fill="#000"/>
<ellipse cx="108.20" cy="527.70" rx="2.20" ry="2.40" fill="#000"/>
<rect x="58.70" y="528.20" width="6.60" height="6.60" fill="#fff" stroke="#000" stroke-width="1.5"/>
<rect x="81.80" y="510.30" width="6.60" height="6.60" fill="#fff" stroke="#000" stroke-width="1.5"/>
<rect x="104.90" y="534.90" width="6.60" height="6.60" fill="#fff" stroke="#000" stroke-width="1.5"/>
<rect x="128.00" y="552.90" width="6.60" height="6.60" fill="#fff" stroke="#000" stroke-width="1.5"/>
<rect x="151.10" y="579.80" width="6.60" height="6.60" fill="#fff" stroke="#000" stroke-width="1.5"/>
<rect x="174.20" y="593.20" width="6.60" height="6.60" fill="#fff" stroke="#000" stroke-width="1.5"/>
<path d="M128.55,546.10L128.55,540.90M126.30,544.80L130.80,542.20M130.80,544.80L126.30,542.20" stroke="#666" stroke-width="1.25" fill="none"/>
<path d="M135.25,546.10L135.25,540.90M133.00,544.80L137.50,542.20M137.50,544.80L133.00,542.20" stroke="#666" stroke-width="1.25" fill="none"/>
<path d="M147.90,568.30L147.90,563.10M145.65,567.00L150.15,564.40M150.15,567.00L145.65,564.40" stroke="#666" stroke-width="1.25" fill="none"/>
<path d="M154.60,568.30L154.60,563.10M152.35,567.00L156.85,564.40M156.85,567.00L152.35,564.40" stroke="#666" stroke-width="1.25" fill="none"/>
<path d="M161.30,568.30L161.30,563.10M159.05,567.00L163.55,564.40M163.55,567.00L159.05,564.40" stroke="#666" stroke-width="1.25" fill="none"/>
<path d="M171.20,587.70L171.20,582.50M168.95,586.40L173.45,583.80M173.45,586.40L168.95,583.80" stroke="#666" stroke-width="1.25" fill="none"/>
<path d="M177.90,587.70L177.90,582.50M175.65,586.40L180.15,583.80M180.15,586.40L175.65,583.80" stroke="#666" stroke-width="1.25" fill="none"/>
<path d="M184.60,587.70L184.60,582.50M182.35,586.40L186.85,583.80M186.85,586.40L182.35,583.80" stroke="#666" stroke-width="1.25" fill="none"/>
<text x="234.80" y="472.10" font-family="Liberation Sans, sans-serif" font-size="16" text-anchor="start" font-weight="bold" fill="#000" >E</text>
<text x="271.50" y="469.20" font-family="Liberation Serif, serif" font-size="13" text-anchor="start" fill="#000" textLength="96.5" lengthAdjust="spacingAndGlyphs" >Glucose utilization</text>
<line x1="291.70" y1="487.00" x2="291.70" y2="616.30" stroke="#000" stroke-width="3" />
<line x1="291.00" y1="614.80" x2="422.70" y2="614.80" stroke="#000" stroke-width="3" />
<line x1="289.20" y1="614.90" x2="291.70" y2="614.90" stroke="#000" stroke-width="1.8" />
<text x="277.20" y="618.50" font-family="Liberation Serif, serif" font-size="9.6" text-anchor="start" fill="#000" textLength="10.7" lengthAdjust="spacingAndGlyphs" >0.0</text>
<line x1="289.20" y1="598.81" x2="291.70" y2="598.81" stroke="#000" stroke-width="1.8" />
<text x="277.20" y="602.41" font-family="Liberation Serif, serif" font-size="9.6" text-anchor="start" fill="#000" textLength="10.7" lengthAdjust="spacingAndGlyphs" >2.5</text>
<line x1="289.20" y1="582.73" x2="291.70" y2="582.73" stroke="#000" stroke-width="1.8" />
<text x="277.20" y="586.33" font-family="Liberation Serif, serif" font-size="9.6" text-anchor="start" fill="#000" textLength="10.7" lengthAdjust="spacingAndGlyphs" >5.0</text>
<line x1="289.20" y1="566.64" x2="291.70" y2="566.64" stroke="#000" stroke-width="1.8" />
<text x="277.20" y="570.25" font-family="Liberation Serif, serif" font-size="9.6" text-anchor="start" fill="#000" textLength="10.7" lengthAdjust="spacingAndGlyphs" >7.5</text>
<line x1="289.20" y1="550.56" x2="291.70" y2="550.56" stroke="#000" stroke-width="1.8" />
<text x="274.30" y="554.16" font-family="Liberation Serif, serif" font-size="9.6" text-anchor="start" fill="#000" textLength="15" lengthAdjust="spacingAndGlyphs" >10.0</text>
<line x1="289.20" y1="534.48" x2="291.70" y2="534.48" stroke="#000" stroke-width="1.8" />
<text x="274.30" y="538.08" font-family="Liberation Serif, serif" font-size="9.6" text-anchor="start" fill="#000" textLength="15" lengthAdjust="spacingAndGlyphs" >12.5</text>
<line x1="289.20" y1="518.39" x2="291.70" y2="518.39" stroke="#000" stroke-width="1.8" />
<text x="274.30" y="521.99" font-family="Liberation Serif, serif" font-size="9.6" text-anchor="start" fill="#000" textLength="15" lengthAdjust="spacingAndGlyphs" >15.0</text>
<line x1="289.20" y1="502.30" x2="291.70" y2="502.30" stroke="#000" stroke-width="1.8" />
<text x="274.30" y="505.90" font-family="Liberation Serif, serif" font-size="9.6" text-anchor="start" fill="#000" textLength="15" lengthAdjust="spacingAndGlyphs" >17.5</text>
<text transform="translate(250.00,552.70) rotate(-90)" x="0" y="0" font-family="Liberation Serif, serif" font-size="13" text-anchor="middle" fill="#000" textLength="98.8" lengthAdjust="spacingAndGlyphs" >Glucose utilization</text>
<text transform="translate(265.2,552.2) rotate(-90)" font-family="Liberation Serif, serif" font-size="12.8" text-anchor="middle">nM/10<tspan font-size="8.5" dy="-2.6">6</tspan><tspan dy="2.6"> cells/hr</tspan></text>
<defs>
<pattern id="pNone" width="2" height="2" patternUnits="userSpaceOnUse"><rect width="2" height="2" fill="#9a9a9a"/><rect width="1" height="1" fill="#555"/></pattern>
<pattern id="pBlys" x="329.5" y="587" width="3.5" height="4.6" patternUnits="userSpaceOnUse"><rect width="3.5" height="4.6" fill="#fff"/><rect width="1.75" height="2.3" fill="#111"/><rect x="1.75" y="2.3" width="1.75" height="2.3" fill="#111"/></pattern>
<pattern id="pIg" width="3.45" height="3.45" patternUnits="userSpaceOnUse"><rect width="3.45" height="3.45" fill="#fff"/><rect y="0" width="3.45" height="1.1" fill="#222"/></pattern>
<pattern id="pCD" width="2.6" height="2.6" patternUnits="userSpaceOnUse"><rect width="2.6" height="2.6" fill="#fff"/><rect x="0" width="1" height="2.6" fill="#222"/></pattern>
</defs>
<line x1="309.25" y1="605.30" x2="309.25" y2="604.80" stroke="#000" stroke-width="2" />
<line x1="302.00" y1="604.80" x2="315.00" y2="604.80" stroke="#000" stroke-width="2.4" />
<rect x="297.00" y="605.30" width="24.50" height="9.50" fill="url(#pNone)" stroke="#000" stroke-width="1.6"/>
<rect x="297.80" y="606.10" width="22.90" height="1.60" fill="#fff" />
<line x1="309.25" y1="614.80" x2="309.25" y2="618.80" stroke="#000" stroke-width="2" />
<line x1="341.80" y1="585.90" x2="341.80" y2="581.00" stroke="#000" stroke-width="2" />
<line x1="335.00" y1="581.00" x2="346.50" y2="581.00" stroke="#000" stroke-width="2.4" />
<rect x="330.00" y="585.90" width="23.60" height="28.90" fill="url(#pBlys)" stroke="#000" stroke-width="1.6"/>
<line x1="341.80" y1="614.80" x2="341.80" y2="618.80" stroke="#000" stroke-width="2" />
<line x1="374.15" y1="535.30" x2="374.15" y2="513.60" stroke="#000" stroke-width="2" />
<line x1="367.00" y1="513.60" x2="380.00" y2="513.60" stroke="#000" stroke-width="2.4" />
<rect x="361.80" y="535.30" width="24.70" height="79.50" fill="url(#pIg)" stroke="#000" stroke-width="1.6"/>
<line x1="374.15" y1="614.80" x2="374.15" y2="618.80" stroke="#000" stroke-width="2" />
<line x1="406.40" y1="556.20" x2="406.40" y2="552.50" stroke="#000" stroke-width="2" />
<line x1="399.80" y1="552.50" x2="412.80" y2="552.50" stroke="#000" stroke-width="2.4" />
<rect x="394.30" y="556.20" width="24.20" height="58.60" fill="url(#pCD)" stroke="#000" stroke-width="1.6"/>
<line x1="406.40" y1="614.80" x2="406.40" y2="618.80" stroke="#000" stroke-width="2" />
<text x="310.10" y="630.00" font-family="Liberation Serif, serif" font-size="10.5" text-anchor="middle" fill="#000" >None</text>
<text x="345.60" y="630.00" font-family="Liberation Serif, serif" font-size="10.5" text-anchor="middle" fill="#000" >BLyS</text>
<text x="373.30" y="630.00" font-family="Liberation Serif, serif" font-size="10.5" text-anchor="middle" fill="#000" >a-Ig</text>
<text x="408.50" y="630.00" font-family="Liberation Serif, serif" font-size="10.5" text-anchor="middle" fill="#000" >a-CD40</text>
<text x="343.60" y="646.20" font-family="Liberation Serif, serif" font-size="13" text-anchor="start" fill="#000" textLength="45.4" lengthAdjust="spacingAndGlyphs" >Stimulus</text>
<polyline points="308.50,576.60 308.50,572.50 342.00,572.50 342.00,576.60" fill="none" stroke="#333" stroke-width="1.2" stroke-linejoin="round" />
<polyline points="308.50,512.80 308.50,509.50 374.60,509.50 374.60,513.50" fill="none" stroke="#333" stroke-width="1.2" stroke-linejoin="round" />
<polyline points="308.50,501.00 308.50,496.50 404.50,496.50 404.50,501.50" fill="none" stroke="#333" stroke-width="1.2" stroke-linejoin="round" />
<text x="317.70" y="570.20" font-family="Liberation Serif, serif" font-size="10" text-anchor="start" fill="#000" textLength="23.7" lengthAdjust="spacingAndGlyphs" >p&lt; .03</text>
<text x="335.20" y="506.80" font-family="Liberation Serif, serif" font-size="10" text-anchor="start" fill="#000" textLength="23.1" lengthAdjust="spacingAndGlyphs" >p&lt; .01</text>
<text x="344.80" y="494.10" font-family="Liberation Serif, serif" font-size="10" text-anchor="start" fill="#000" textLength="28.9" lengthAdjust="spacingAndGlyphs" >p&lt; .001</text>
</svg>
</body></html>
